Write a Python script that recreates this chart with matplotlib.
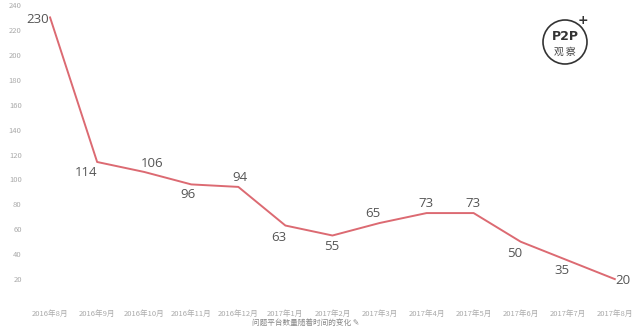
import matplotlib.pyplot as plt
from matplotlib.patches import Circle

plt.rcParams['font.family'] = ['Noto Sans CJK SC', 'DejaVu Sans']

# 问题平台数量
months = ['2016年8月', '2016年9月', '2016年10月', '2016年11月', '2016年12月',
          '2017年1月', '2017年2月', '2017年3月', '2017年4月', '2017年5月',
          '2017年6月', '2017年7月', '2017年8月']
counts = [230, 114, 106, 96, 94, 63, 55, 65, 73, 73, 50, 35, 20]

# 数字标签的偏移（像素）
offsets = [(-12, -2), (-11, -11), (8, 8), (-3, -10), (2, 9), (-7, -12),
           (-1, -11), (-7, 10), (-1, 10), (-1, 10), (-6, -12), (-6, -10), (8, -1)]

fig = plt.figure(figsize=(6.4, 3.33), dpi=100)
ax = fig.add_axes([0.047, 0.087, 0.946, 0.913])

x = list(range(len(months)))
ax.plot(x, counts, color='#dc6a72', lw=1.4)

for xi, v, (dx, dy) in zip(x, counts, offsets):
    ax.annotate(str(v), (xi, v), xytext=(dx, dy), textcoords='offset pixels',
                ha='center', va='center', fontsize=9.5, color='#555555',
                family='Open Sans')

ax.set_xlim(-0.425, 12.44)
ax.set_ylim(0, 244)
ax.set_yticks(range(20, 241, 20))
ax.set_xticks(x)
ax.set_xticklabels(months)
ax.tick_params(axis='both', length=0, labelsize=5.5, labelcolor='#aaaaaa')
ax.tick_params(axis='x', pad=4)
ax.tick_params(axis='y', pad=6)
for s in ax.spines.values():
    s.set_visible(False)

fig.text(0.477, 0.03, '问题平台数量随着时间的变化 ✎', ha='center', va='center',
         fontsize=5.5, color='#888888')

# 右上角标志
logo = Circle((565, 291), 22, transform=None, fill=False, ec='#333333', lw=1.2)
fig.patches.append(logo)
fig.text(565 / 640, 297 / 333, 'P2P', ha='center', va='center', fontsize=9,
         fontweight='bold', color='#333333', family='DejaVu Sans')
fig.text(565 / 640, 281 / 333, '观 察', ha='center', va='center', fontsize=7,
         color='#444444')
fig.text(583 / 640, 312 / 333, '+', ha='center', va='center', fontsize=9,
         fontweight='bold', color='#333333', family='DejaVu Sans')

fig.savefig('out.png', dpi=100)
